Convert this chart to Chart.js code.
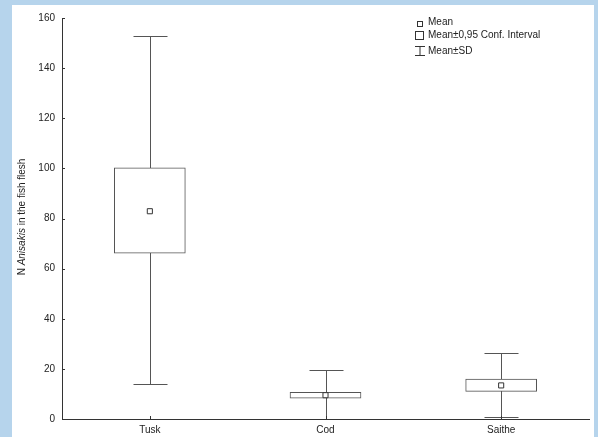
<!DOCTYPE html>
<html>
<head>
<meta charset="utf-8">
<script src="https://cdn.jsdelivr.net/npm/chart.js@4/dist/chart.umd.min.js"></script>
<style>
    html, body { margin: 0; padding: 0; }
    body { width: 598px; height: 437px; background: #b6d4ec; position: relative; overflow: hidden; }
    #panel { position: absolute; left: 12px; top: 5px; width: 582px; height: 432px; background: #ffffff; }
    #boxChart { display: block; }
</style>
</head>
<body>
<div id="panel"><canvas id="boxChart" width="582" height="432"></canvas></div>
<script>
const categories = ['Tusk', 'Cod', 'Saithe'];
const means = [82.9, 9.5, 13.4];
const ciLow = [66.2, 8.3, 11.0];
const ciHigh = [100.2, 10.6, 15.9];
const sdLow = [13.9, -0.9, 0.6];
const sdHigh = [152.7, 19.7, 26.2];
const yTicks = [0, 20, 40, 60, 80, 100, 120, 140, 160];

const FONT = '"Liberation Sans", Arial, sans-serif';
const INK = '#222';
const LINE = '#555';

// whiskers (mean±SD) drawn under the boxes, from the chart scales
const whiskerPlugin = {
    id: 'whiskers',
    beforeDatasetsDraw(chart) {
        const { ctx, chartArea, scales } = chart;
        ctx.save();
        ctx.beginPath();
        ctx.rect(chartArea.left, chartArea.top, chartArea.right - chartArea.left, chartArea.bottom - chartArea.top);
        ctx.clip();
        ctx.strokeStyle = LINE;
        ctx.lineWidth = 1;
        categories.forEach(function (c, i) {
            const x = Math.round(scales.x.getPixelForValue(i)) + 0.5;
            const yTop = Math.round(scales.y.getPixelForValue(sdHigh[i])) + 0.5;
            const yBot = Math.round(scales.y.getPixelForValue(sdLow[i])) + 0.5;
            ctx.beginPath();
            ctx.moveTo(x, yTop);
            ctx.lineTo(x, yBot);
            ctx.moveTo(x - 17, yTop);
            ctx.lineTo(x + 17, yTop);
            ctx.moveTo(x - 17, yBot);
            ctx.lineTo(x + 17, yBot);
            ctx.stroke();
        });
        ctx.restore();
    }
};

// inward tick marks, y title with italic genus name, and the legend
const decorPlugin = {
    id: 'decor',
    afterDraw(chart) {
        const { ctx, chartArea, scales } = chart;
        ctx.save();
        ctx.strokeStyle = '#333';
        ctx.lineWidth = 1;
        ctx.beginPath();
        yTicks.forEach(function (v) {
            const y = Math.round(scales.y.getPixelForValue(v)) + 0.5;
            ctx.moveTo(chartArea.left, y);
            ctx.lineTo(chartArea.left + 3, y);
        });
        categories.forEach(function (c, i) {
            const x = Math.round(scales.x.getPixelForValue(i)) + 0.5;
            ctx.moveTo(x, chartArea.bottom);
            ctx.lineTo(x, chartArea.bottom - 3);
        });
        ctx.stroke();

        // y axis title
        const parts = [
            { t: 'N ', f: '10px ' + FONT },
            { t: 'Anisakis', f: 'italic 10px ' + FONT },
            { t: ' in the fish flesh', f: '10px ' + FONT }
        ];
        let total = 0;
        parts.forEach(function (p) { ctx.font = p.f; total += ctx.measureText(p.t).width; });
        ctx.translate(10, 212);
        ctx.rotate(-Math.PI / 2);
        ctx.fillStyle = INK;
        ctx.textBaseline = 'middle';
        let px = -total / 2;
        parts.forEach(function (p) {
            ctx.font = p.f;
            ctx.fillText(p.t, px, 0);
            px += ctx.measureText(p.t).width;
        });
        ctx.restore();

        // legend
        ctx.save();
        const lx = 407.5;
        ctx.strokeStyle = '#333';
        ctx.fillStyle = '#fff';
        ctx.lineWidth = 1;
        ctx.strokeRect(lx - 2, 16.5, 5, 5);
        ctx.strokeRect(lx - 4, 26.5, 8, 8);
        ctx.beginPath();
        ctx.moveTo(lx - 4.5, 41.5); ctx.lineTo(lx + 5.5, 41.5);
        ctx.moveTo(lx + 0.5, 41.5); ctx.lineTo(lx + 0.5, 50.5);
        ctx.moveTo(lx - 4.5, 50.5); ctx.lineTo(lx + 5.5, 50.5);
        ctx.stroke();
        ctx.fillStyle = INK;
        ctx.font = '10px ' + FONT;
        ctx.textBaseline = 'middle';
        ctx.fillText('Mean', 416, 17.5);
        ctx.fillText('Mean\u00b10,95 Conf. Interval', 416, 30.5);
        ctx.fillText('Mean\u00b1SD', 416, 46.5);
        ctx.restore();
    }
};

new Chart(document.getElementById('boxChart').getContext('2d'), {
    data: {
        labels: categories,
        datasets: [
            {
                type: 'scatter',
                label: 'Mean',
                data: means.map(function (m, i) { return { x: i, y: m }; }),
                pointStyle: 'rect',
                pointRadius: 3.6,
                pointBorderWidth: 1,
                pointBorderColor: '#333',
                pointBackgroundColor: '#fff',
                showLine: false,
                order: 0
            },
            {
                type: 'bar',
                label: 'Mean\u00b10,95 Conf. Interval',
                data: ciLow.map(function (lo, i) { return [lo, ciHigh[i]]; }),
                backgroundColor: '#fff',
                borderColor: LINE,
                borderWidth: 1,
                borderSkipped: false,
                barThickness: 71,
                grouped: false,
                order: 1
            }
        ]
    },
    options: {
        responsive: false,
        animation: false,
        layout: {
            padding: { top: 12, right: 5, left: 0, bottom: 0 }
        },
        plugins: {
            legend: { display: false },
            tooltip: { enabled: false }
        },
        scales: {
            x: {
                type: 'category',
                offset: true,
                grid: { display: true, drawOnChartArea: false, drawTicks: false },
                border: { display: true, color: '#333', width: 1 },
                ticks: { color: INK, font: { family: FONT, size: 10 }, padding: 5 },
                afterFit: function (s) { s.height = 18; }
            },
            y: {
                min: 0,
                max: 160,
                grid: { display: true, drawOnChartArea: false, drawTicks: false },
                border: { display: true, color: '#333', width: 1 },
                ticks: { stepSize: 20, color: INK, font: { family: FONT, size: 10 }, padding: 7 },
                afterFit: function (s) { s.width = 50; }
            }
        }
    },
    plugins: [whiskerPlugin, decorPlugin]
});
</script>
</body>
</html>
